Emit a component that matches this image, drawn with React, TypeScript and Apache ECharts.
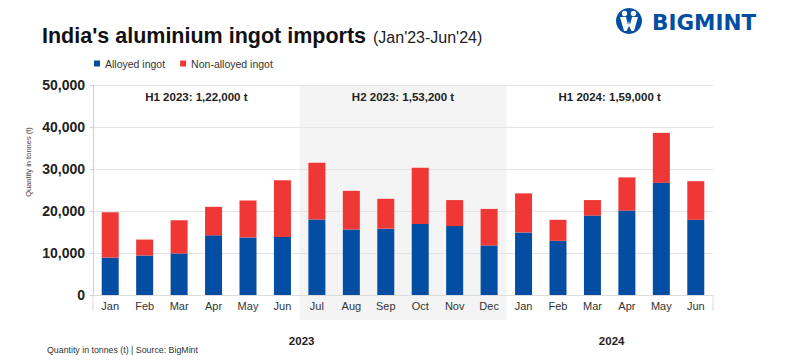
import React, { useEffect, useRef } from "react";
import * as echarts from "echarts";

const months = ["Jan", "Feb", "Mar", "Apr", "May", "Jun", "Jul", "Aug", "Sep", "Oct", "Nov", "Dec", "Jan", "Feb", "Mar", "Apr", "May", "Jun"];
const alloyed = [8900, 9400, 9900, 14200, 13700, 13800, 18000, 15600, 15800, 16900, 16400, 11800, 14900, 12900, 18900, 20100, 26700, 17900];
const nonAlloyed = [10800, 3800, 7900, 6800, 8800, 13500, 13500, 9200, 7100, 13400, 6200, 8700, 9300, 5000, 3700, 7900, 11900, 9200];
const seriesNames = ["Alloyed ingot", "Non-alloyed ingot"];
const periodLabels = ["H1 2023: 1,22,000 t", "H2 2023: 1,53,200 t", "H1 2024: 1,59,000 t"];
const periodRanges = [[0, 5], [6, 11], [12, 17]];
const yearLabels = ["2023", "2024"];
const yearRanges = [[0, 11], [12, 17]];
const shadedRange = [6, 11];

const BLUE = "#034ea2";
const RED = "#ef3835";
const FONT = "'Liberation Sans', Arial, sans-serif";

echarts.graphic.registerShape(
  "bmfigs",
  echarts.graphic.extendPath(
    "M4 9 L10 9 L12 17 L13 13 L14 17 L16 9 L22 9 L18 23 L15.5 23 L13 18 L10.5 23 L8 23 Z",
    {}
  ) as any
);

export default function App() {
  const ref = useRef<HTMLDivElement>(null);
  useEffect(() => {
    const chart = echarts.init(ref.current!, null, { renderer: "svg" });
    const option: any = {
      animation: false,
      backgroundColor: "#ffffff",
      textStyle: { fontFamily: FONT },
      grid: { left: 93, right: 82, top: 85, bottom: 69, containLabel: false },
      legend: {
        data: seriesNames,
        left: 89,
        top: 53,
        icon: "rect",
        itemWidth: 6,
        itemHeight: 6,
        itemGap: 15,
        textStyle: { fontSize: 10.5, color: "#333", fontFamily: FONT },
      },
      xAxis: {
        type: "category",
        data: months,
        axisLine: { show: true, lineStyle: { color: "#dcdcdc" } },
        axisTick: { show: false },
        axisLabel: { color: "#333", fontSize: 11, margin: 5, fontFamily: FONT, interval: 0 },
      },
      yAxis: {
        type: "value",
        min: 0,
        max: 50000,
        interval: 10000,
        axisLine: { show: true, lineStyle: { color: "#cfcfcf" } },
        axisTick: { show: true, length: 3, lineStyle: { color: "#cfcfcf" } },
        splitLine: { show: true, lineStyle: { color: "#e4e4e4" } },
        axisLabel: {
          color: "#222",
          fontSize: 14,
          fontWeight: "bold",
          margin: 8,
          fontFamily: FONT,
          formatter: (v: number) => v.toLocaleString("en-US"),
        },
      },
      series: [
        {
          name: seriesNames[0],
          type: "bar",
          stack: "total",
          barWidth: 17,
          itemStyle: { color: BLUE },
          data: alloyed,
        },
        {
          name: seriesNames[1],
          type: "bar",
          stack: "total",
          barWidth: 17,
          itemStyle: { color: RED },
          data: nonAlloyed,
        },
      ],
    };
    chart.setOption(option);

    const cx = (i: number) => chart.convertToPixel({ xAxisIndex: 0 }, i) as unknown as number;
    const py = (v: number) => chart.convertToPixel({ yAxisIndex: 0 }, v) as unknown as number;
    const bw = cx(1) - cx(0);
    const leftOf = (i: number) => cx(i) - bw / 2;
    const rightOf = (i: number) => cx(i) + bw / 2;
    const yTop = py(50000);
    const yZero = py(0);
    const firstX = leftOf(0);
    const lastX = rightOf(months.length - 1);

    const graphic: any[] = [
      {
        type: "rect",
        z: -5,
        shape: {
          x: leftOf(shadedRange[0]),
          y: yTop,
          width: rightOf(shadedRange[1]) - leftOf(shadedRange[0]),
          height: yZero + 25 - yTop,
        },
        style: { fill: "#f4f4f4" },
      },
      {
        type: "line",
        shape: { x1: firstX, y1: yZero, x2: firstX, y2: yZero + 16 },
        style: { stroke: "#dcdcdc", lineWidth: 1 },
      },
      {
        type: "line",
        shape: { x1: lastX, y1: yZero, x2: lastX, y2: yZero + 16 },
        style: { stroke: "#dcdcdc", lineWidth: 1 },
      },
      {
        type: "text",
        x: 42,
        y: 36,
        style: {
          text: "India's aluminium ingot imports",
          font: `bold 21.5px ${FONT}`,
          fill: "#111",
          align: "left",
          verticalAlign: "middle",
        },
      },
      {
        type: "text",
        x: 373,
        y: 37.5,
        style: {
          text: "(Jan'23-Jun'24)",
          font: `16px ${FONT}`,
          fill: "#222",
          align: "left",
          verticalAlign: "middle",
        },
      },
      {
        type: "text",
        x: 28,
        y: 162,
        rotation: Math.PI / 2,
        style: {
          text: "Quantity in tonnes (t)",
          font: `7.5px ${FONT}`,
          fill: "#444",
          align: "center",
          verticalAlign: "middle",
        },
      },
      {
        type: "text",
        x: 47,
        y: 350,
        style: {
          text: "Quantity in tonnes (t) | Source: BigMint",
          font: `8.8px ${FONT}`,
          fill: "#333",
          align: "left",
          verticalAlign: "middle",
        },
      },
      {
        type: "circle",
        shape: { cx: 629, cy: 21, r: 13 },
        style: { fill: BLUE },
      },
      {
        type: "circle",
        shape: { cx: 624.5, cy: 13.5, r: 2.8 },
        style: { fill: "#fff" },
      },
      {
        type: "circle",
        shape: { cx: 633.5, cy: 13.5, r: 2.8 },
        style: { fill: "#fff" },
      },
      {
        type: "bmfigs",
        x: 616,
        y: 8,
        style: { fill: "#fff" },
      },
      {
        type: "text",
        x: 652,
        y: 22.5,
        style: {
          text: "BIGMINT",
          font: `bold 21.5px 'DejaVu Sans', ${FONT}`,
          fill: BLUE,
          align: "left",
          verticalAlign: "middle",
        },
      },
    ];

    periodRanges.forEach((r, k) => {
      graphic.push({
        type: "text",
        x: (leftOf(r[0]) + rightOf(r[1])) / 2,
        y: 97,
        style: {
          text: periodLabels[k],
          font: `bold 11.5px ${FONT}`,
          fill: "#222",
          align: "center",
          verticalAlign: "middle",
        },
      });
    });
    yearRanges.forEach((r, k) => {
      graphic.push({
        type: "text",
        x: (leftOf(r[0]) + rightOf(r[1])) / 2 + 2,
        y: 341,
        style: {
          text: yearLabels[k],
          font: `bold 11.5px ${FONT}`,
          fill: "#222",
          align: "center",
          verticalAlign: "middle",
        },
      });
    });

    chart.setOption({ graphic });
    return () => chart.dispose();
  }, []);

  return (
    <div
      ref={ref}
      style={{ position: "fixed", left: 0, top: 0, width: 795, height: 364, background: "#fff" }}
    />
  );
}
